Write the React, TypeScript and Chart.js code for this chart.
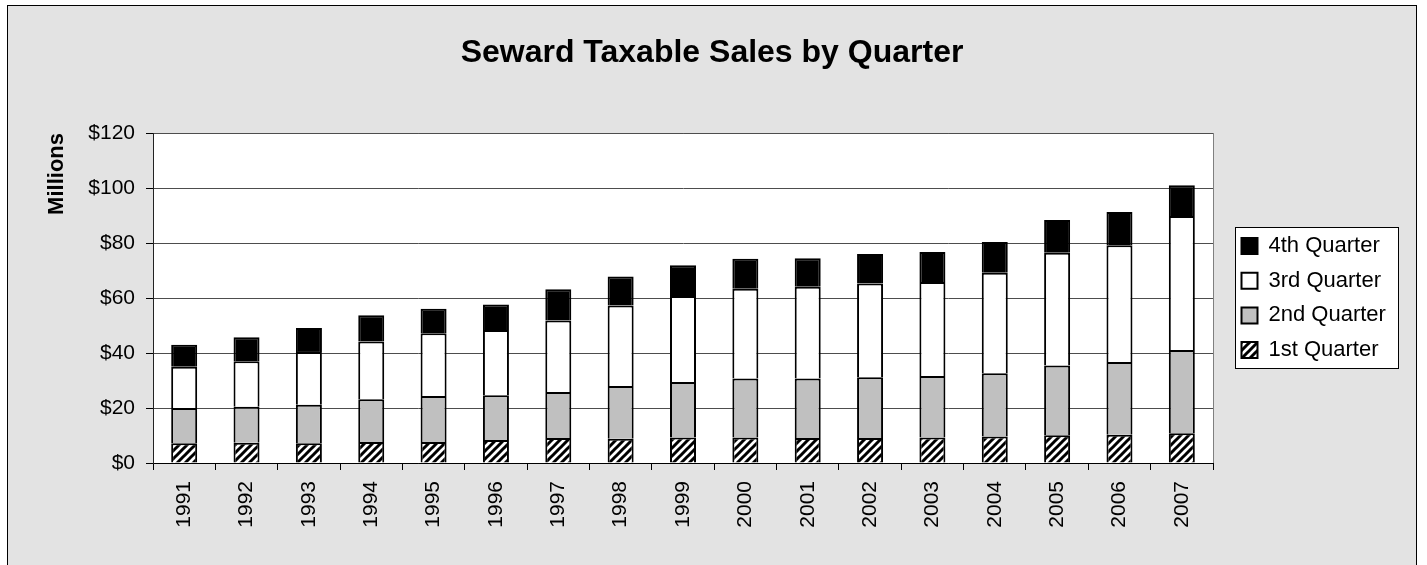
import { useEffect, useRef } from 'react';
import { Chart, registerables } from 'chart.js';

Chart.register(...registerables);

const years = ['1991', '1992', '1993', '1994', '1995', '1996', '1997', '1998', '1999', '2000', '2001', '2002', '2003', '2004', '2005', '2006', '2007'];
const q1 = [7.2, 7.4, 7.2, 7.6, 7.6, 8.4, 9.1, 8.8, 9.3, 9.3, 9.1, 9.1, 9.3, 9.6, 10.1, 10.3, 10.8];
const q2 = [12.8, 13.1, 14.0, 15.6, 16.8, 16.2, 16.7, 19.2, 20.2, 21.4, 21.6, 22.1, 22.3, 23.0, 25.4, 26.4, 30.3];
const q3 = [15.0, 16.5, 19.2, 21.0, 22.8, 23.8, 26.0, 29.3, 31.2, 32.7, 33.4, 34.1, 34.2, 36.6, 41.0, 42.5, 48.7];
const q4 = [8.0, 8.7, 8.7, 9.5, 8.9, 9.2, 11.4, 10.5, 11.2, 10.9, 10.4, 10.7, 10.9, 11.2, 11.9, 12.1, 11.2];
const seriesLabels = ['1st Quarter', '2nd Quarter', '3rd Quarter', '4th Quarter'];
const chartTitle = 'Seward Taxable Sales by Quarter';
const yAxisTitle = 'Millions';
const yMax = 120;
const yStep = 20;

const FONT = '"Liberation Sans", Arial, sans-serif';

function makeHatch(ctx: CanvasRenderingContext2D): CanvasPattern | string {
  const c = document.createElement('canvas');
  c.width = 8;
  c.height = 8;
  const g = c.getContext('2d');
  if (!g) return '#ffffff';
  g.fillStyle = '#ffffff';
  g.fillRect(0, 0, 8, 8);
  g.strokeStyle = '#000000';
  g.lineWidth = 3;
  g.beginPath();
  g.moveTo(-2, 10); g.lineTo(10, -2);
  g.moveTo(-6, 6); g.lineTo(6, -6);
  g.moveTo(2, 14); g.lineTo(14, 2);
  g.stroke();
  return ctx.createPattern(c, 'repeat') || '#ffffff';
}

const bgPlugin = {
  id: 'bgPlugin',
  afterLayout(chart: any) {
    const lg = chart.legend;
    if (lg) {
      lg.left = 1228.8;
      lg.right = 1228.8 + 170;
      lg.width = 170;
      lg.top = 216.1;
      lg.bottom = 380;
      lg.height = 380 - 216.1;
    }
    const tb = chart.titleBlock;
    if (tb) {
      tb.left = 0;
      tb.right = 1424;
      tb.width = 1424;
    }
  },
  beforeDraw(chart: any) {
    const { ctx, chartArea: a, width, height } = chart;
    ctx.save();
    ctx.fillStyle = '#ffffff';
    ctx.fillRect(0, 0, width, height);
    ctx.fillStyle = '#e3e3e3';
    ctx.fillRect(7, 5, 1410, 580);
    ctx.strokeStyle = '#000000';
    ctx.lineWidth = 1;
    ctx.strokeRect(7.5, 5.5, 1409, 580);
    ctx.fillStyle = '#ffffff';
    ctx.fillRect(a.left, a.top, a.right - a.left, a.bottom - a.top);
    ctx.strokeStyle = '#808080';
    ctx.strokeRect(a.left + 0.5, a.top + 0.5, a.right - a.left, a.bottom - a.top);
    ctx.fillStyle = '#ffffff';
    ctx.fillRect(1235, 227, 163, 141);
    ctx.strokeStyle = '#000000';
    ctx.strokeRect(1235.5, 227.5, 163, 141);
    ctx.restore();
  },
};

export default function App() {
  const ref = useRef<HTMLCanvasElement>(null);
  useEffect(() => {
    const canvas = ref.current;
    if (!canvas) return;
    const ctx = canvas.getContext('2d');
    if (!ctx) return;
    const hatch = makeHatch(ctx);
    const chart = new Chart(canvas, {
      type: 'bar',
      data: {
        labels: years,
        datasets: [
          { label: seriesLabels[0], data: q1, backgroundColor: hatch as any, borderColor: '#000000', borderWidth: 2 },
          { label: seriesLabels[1], data: q2, backgroundColor: '#c0c0c0', borderColor: '#000000', borderWidth: 2 },
          { label: seriesLabels[2], data: q3, backgroundColor: '#ffffff', borderColor: '#000000', borderWidth: 2 },
          { label: seriesLabels[3], data: q4, backgroundColor: '#000000', borderColor: '#000000', borderWidth: 2 },
        ],
      },
      options: {
        responsive: false,
        animation: false,
        devicePixelRatio: 1,
        layout: { padding: { left: 0, top: 0, right: 114, bottom: 0 } },
        datasets: { bar: { categoryPercentage: 1, barPercentage: 0.417 } },
        scales: {
          x: {
            stacked: true,
            grid: { offset: true, drawOnChartArea: false, drawTicks: true, tickLength: 7, color: '#000000' },
            border: { color: '#000000', width: 1 },
            ticks: {
              minRotation: 90,
              maxRotation: 90,
              autoSkip: false,
              padding: 11,
              color: '#000000',
              font: { family: FONT, size: 21 },
            },
            afterFit: (s: any) => { s.height = 102; },
          },
          y: {
            stacked: true,
            min: 0,
            max: yMax,
            ticks: {
              stepSize: yStep,
              padding: 11,
              color: '#000000',
              font: { family: FONT, size: 21 },
              callback: (v: any) => '$' + v,
            },
            grid: { color: '#4d4d4d', tickLength: 7, tickColor: '#000000' },
            border: { color: '#222222', width: 1 },
            title: {
              display: true,
              text: yAxisTitle,
              align: 'end',
              color: '#000000',
              font: { family: FONT, size: 22, weight: 'bold' },
              padding: { top: 44, bottom: 0 },
            },
            afterFit: (s: any) => { s.width = 153; },
          },
        },
        plugins: {
          title: {
            display: true,
            text: chartTitle,
            color: '#000000',
            font: { family: FONT, size: 32, weight: 'bold' },
            padding: { top: 34.3, bottom: 60.3 },
          },
          legend: {
            position: 'right',
            reverse: true,
            maxWidth: 100,
            labels: {
              boxWidth: 16,
              boxHeight: 16,
              padding: 12.7,
              color: '#000000',
              font: { family: FONT, size: 22 },
            },
          },
          tooltip: { enabled: false },
        },
      } as any,
      plugins: [bgPlugin],
    });
    return () => chart.destroy();
  }, []);
  return (
    <div style={{ position: 'absolute', left: 0, top: 0, width: 1427, height: 565 }}>
      <canvas ref={ref} width={1427} height={565} style={{ display: 'block', width: 1427, height: 565 }} />
    </div>
  );
}
